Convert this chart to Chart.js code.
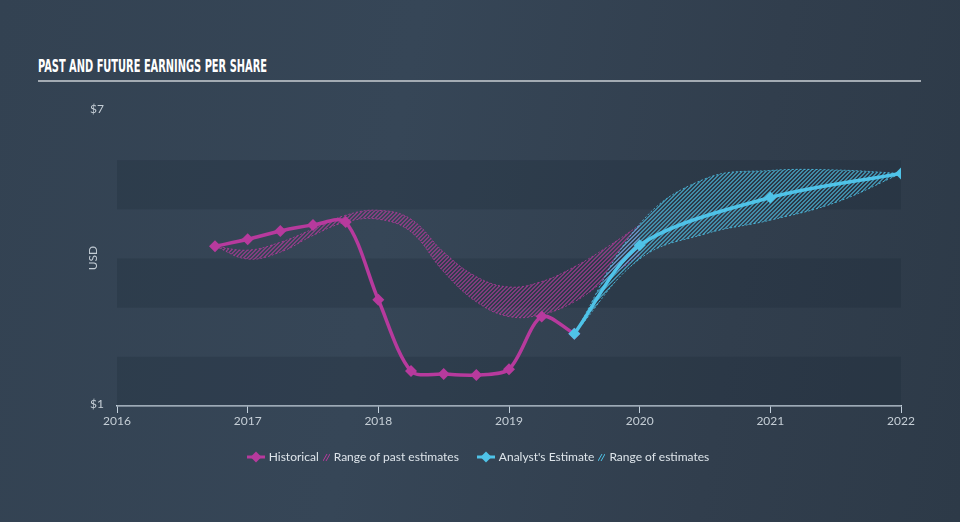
<!DOCTYPE html>
<html>
<head>
<meta charset="utf-8">
<script src="https://cdn.jsdelivr.net/npm/chart.js@4/dist/chart.umd.min.js"></script>
<style>
  body {
    margin: 0;
    width: 960px;
    height: 522px;
    overflow: hidden;
    background: linear-gradient(100deg, #334252 0%, #364657 40%, #313e4d 75%, #2d3a48 100%);
    font-family: Lato, "Open Sans", sans-serif;
    position: relative;
  }
  #title {
    position: absolute;
    left: 38px;
    top: 56px;
    color: #fff;
    font-family: "Liberation Sans Narrow", "DejaVu Sans Condensed", sans-serif;
    font-weight: bold;
    font-size: 18px;
    line-height: 20px;
    white-space: nowrap;
    transform-origin: left center;
  }
  #rule {
    position: absolute;
    left: 38px;
    top: 80px;
    width: 883px;
    height: 2px;
    background: #a3abb3;
  }
  #chart {
    position: absolute;
    left: 0;
    top: 0;
  }
  #legend {
    position: absolute;
    left: 0;
    top: 449px;
    width: 960px;
    display: flex;
    justify-content: center;
    align-items: center;
    color: #dde4ea;
    font-size: 12px;
    white-space: nowrap;
  }
  #legend span { margin-right: 4px; }
  #legend svg { margin-right: 4px; }
  #legend .gap { width: 14px; }
</style>
</head>
<body>
<div id="title">PAST AND FUTURE EARNINGS PER SHARE</div>
<div id="rule"></div>
<canvas id="chart" width="960" height="522"></canvas>
<div id="legend">
  <svg width="18" height="12"><line x1="0" y1="6" x2="18" y2="6" stroke="#b73a9d" stroke-width="3"/><polygon points="9,0.5 14.5,6 9,11.5 3.5,6" fill="#b73a9d"/></svg>
  <span>Historical</span>
  <svg width="7" height="10"><line x1="0" y1="9" x2="4" y2="2" stroke="#b73a9d" stroke-width="1"/><line x1="3" y1="9" x2="7" y2="2" stroke="#b73a9d" stroke-width="1"/></svg>
  <span>Range of past estimates</span>
  <div class="gap"></div>
  <svg width="18" height="12"><line x1="0" y1="6" x2="18" y2="6" stroke="#4fc3e8" stroke-width="3"/><polygon points="9,0.5 14.5,6 9,11.5 3.5,6" fill="#4fc3e8"/></svg>
  <span>Analyst's Estimate</span>
  <svg width="7" height="10"><line x1="0" y1="9" x2="4" y2="2" stroke="#4fc3e8" stroke-width="1"/><line x1="3" y1="9" x2="7" y2="2" stroke="#4fc3e8" stroke-width="1"/></svg>
  <span>Range of estimates</span>
</div>
<script>
// Historical EPS (quarterly)
const histDates = [2016.75, 2017, 2017.25, 2017.5, 2017.75, 2018, 2018.25, 2018.5, 2018.75, 2019, 2019.25, 2019.5];
const histEps = [4.25, 4.39, 4.56, 4.68, 4.74, 3.16, 1.71, 1.65, 1.63, 1.75, 2.82, 2.47];

// Range of past estimates
const pastRangeDates = [2016.75, 2017, 2017.25, 2017.5, 2017.75, 2018, 2018.25, 2018.5, 2018.75, 2019, 2019.25, 2019.5, 2019.75, 2020];
const pastHigh = [4.25, 4.17, 4.33, 4.60, 4.88, 4.98, 4.80, 4.13, 3.63, 3.42, 3.53, 3.83, 4.23, 4.68];
const pastLow = [4.25, 3.99, 4.13, 4.47, 4.74, 4.80, 4.54, 3.73, 3.12, 2.82, 2.86, 3.12, 3.59, 4.07];

// Analyst estimates
const estDates = [2019.5, 2020, 2021, 2022];
const estEps = [2.47, 4.27, 5.24, 5.73];
const estRangeDates = [2019.5, 2020, 2020.5, 2021, 2021.5, 2022];
const estHigh = [2.47, 4.70, 5.62, 5.79, 5.80, 5.73];
const estLow = [2.47, 3.99, 4.50, 4.78, 5.14, 5.73];

// Axis
const yearTicks = [2016, 2017, 2018, 2019, 2020, 2021, 2022];
const yTicks = [1, 7];

const pink = '#b73a9d';
const blue = '#4fc3e8';

// fit title to its width
const title = document.getElementById('title');
title.style.transform = 'scaleX(' + (229 / title.offsetWidth) + ')';

function toPoints(xs, ys) {
    return xs.map((x, i) => ({ x: x, y: ys[i] }));
}

// diagonal hatch, pixel by pixel so it stays crisp
function hatch(color) {
    const c = document.createElement('canvas');
    c.width = 4;
    c.height = 4;
    const g = c.getContext('2d');
    g.fillStyle = color;
    for (let x = 0; x < 4; x++) {
        for (let y = 0; y < 4; y++) {
            if ((x + y) % 4 < 2) g.fillRect(x, y, 1, 1);
        }
    }
    return g.createPattern(c, 'repeat');
}

const ctx = document.getElementById('chart').getContext('2d');

// horizontal bands + USD label
const bands = {
    id: 'bands',
    beforeDatasetsDraw(chart) {
        const { ctx, chartArea, scales } = chart;
        ctx.save();
        for (let v = 1; v < 6; v += 2) {
            const top = scales.y.getPixelForValue(v + 1);
            const bottom = scales.y.getPixelForValue(v);
            ctx.fillStyle = 'rgba(25,35,48,0.22)';
            ctx.fillRect(chartArea.left, top, chartArea.right - chartArea.left, bottom - top);
        }
        ctx.restore();
    },
    afterDraw(chart) {
        const { ctx } = chart;
        ctx.save();
        ctx.translate(93, 258);
        ctx.rotate(-Math.PI / 2);
        ctx.fillStyle = '#c5ced6';
        ctx.font = '12px Lato, sans-serif';
        ctx.textAlign = 'center';
        ctx.textBaseline = 'middle';
        ctx.fillText('USD', 0, 0);
        ctx.restore();
    }
};

const rangeLine = {
    fill: false,
    borderWidth: 1,
    borderDash: [2, 2],
    pointRadius: 0,
    pointHoverRadius: 0,
    tension: 0.4
};

new Chart(ctx, {
    type: 'line',
    data: {
        datasets: [
            Object.assign({}, rangeLine, {
                label: 'Range of past estimates high',
                data: toPoints(pastRangeDates, pastHigh),
                borderColor: 'rgba(183,58,157,0.8)',
                order: 5
            }),
            Object.assign({}, rangeLine, {
                label: 'Range of past estimates',
                data: toPoints(pastRangeDates, pastLow),
                borderColor: 'rgba(183,58,157,0.8)',
                backgroundColor: hatch('rgba(183,58,157,0.6)'),
                fill: '-1',
                order: 5
            }),
            {
                label: 'Historical',
                data: toPoints(histDates, histEps),
                borderColor: pink,
                backgroundColor: pink,
                borderWidth: 3.5,
                pointStyle: 'rectRot',
                pointRadius: 6,
                pointBorderWidth: 0,
                tension: 0.3,
                order: 4
            },
            Object.assign({}, rangeLine, {
                label: 'Range of estimates high',
                data: toPoints(estRangeDates, estHigh),
                borderColor: 'rgba(79,195,232,0.8)',
                order: 3
            }),
            Object.assign({}, rangeLine, {
                label: 'Range of estimates',
                data: toPoints(estRangeDates, estLow),
                borderColor: 'rgba(79,195,232,0.8)',
                backgroundColor: hatch('rgba(79,195,232,0.6)'),
                fill: '-1',
                order: 3
            }),
            {
                label: "Analyst's Estimate",
                data: toPoints(estDates, estEps),
                borderColor: blue,
                backgroundColor: blue,
                borderWidth: 3.5,
                pointStyle: 'rectRot',
                pointRadius: 6,
                pointBorderWidth: 0,
                tension: 0.3,
                order: 1
            }
        ]
    },
    options: {
        responsive: false,
        animation: false,
        layout: { padding: { left: 0, top: 111, right: 59, bottom: 0 } },
        plugins: {
            legend: { display: false },
            tooltip: { enabled: false }
        },
        scales: {
            x: {
                type: 'linear',
                min: 2016,
                max: 2022,
                afterFit: scale => { scale.height = 116; },
                afterBuildTicks: scale => { scale.ticks = yearTicks.map(v => ({ value: v })); },
                grid: { drawOnChartArea: false, tickLength: 7, color: '#c3d0dc', tickWidth: 1 },
                border: { color: '#c3d0dc', width: 1.5 },
                ticks: {
                    color: '#c5ced6',
                    font: { family: 'Lato', size: 12 },
                    padding: 1,
                    maxRotation: 0,
                    callback: v => String(v)
                }
            },
            y: {
                min: 1,
                max: 7,
                afterFit: scale => { scale.width = 117; },
                afterBuildTicks: scale => { scale.ticks = yTicks.map(v => ({ value: v })); },
                grid: { display: false, drawTicks: false },
                border: { display: false },
                ticks: {
                    color: '#c5ced6',
                    font: { family: 'Lato', size: 12 },
                    padding: 13,
                    labelOffset: -2,
                    callback: v => '$' + v
                }
            }
        }
    },
    plugins: [bands]
});
</script>
</body>
</html>
